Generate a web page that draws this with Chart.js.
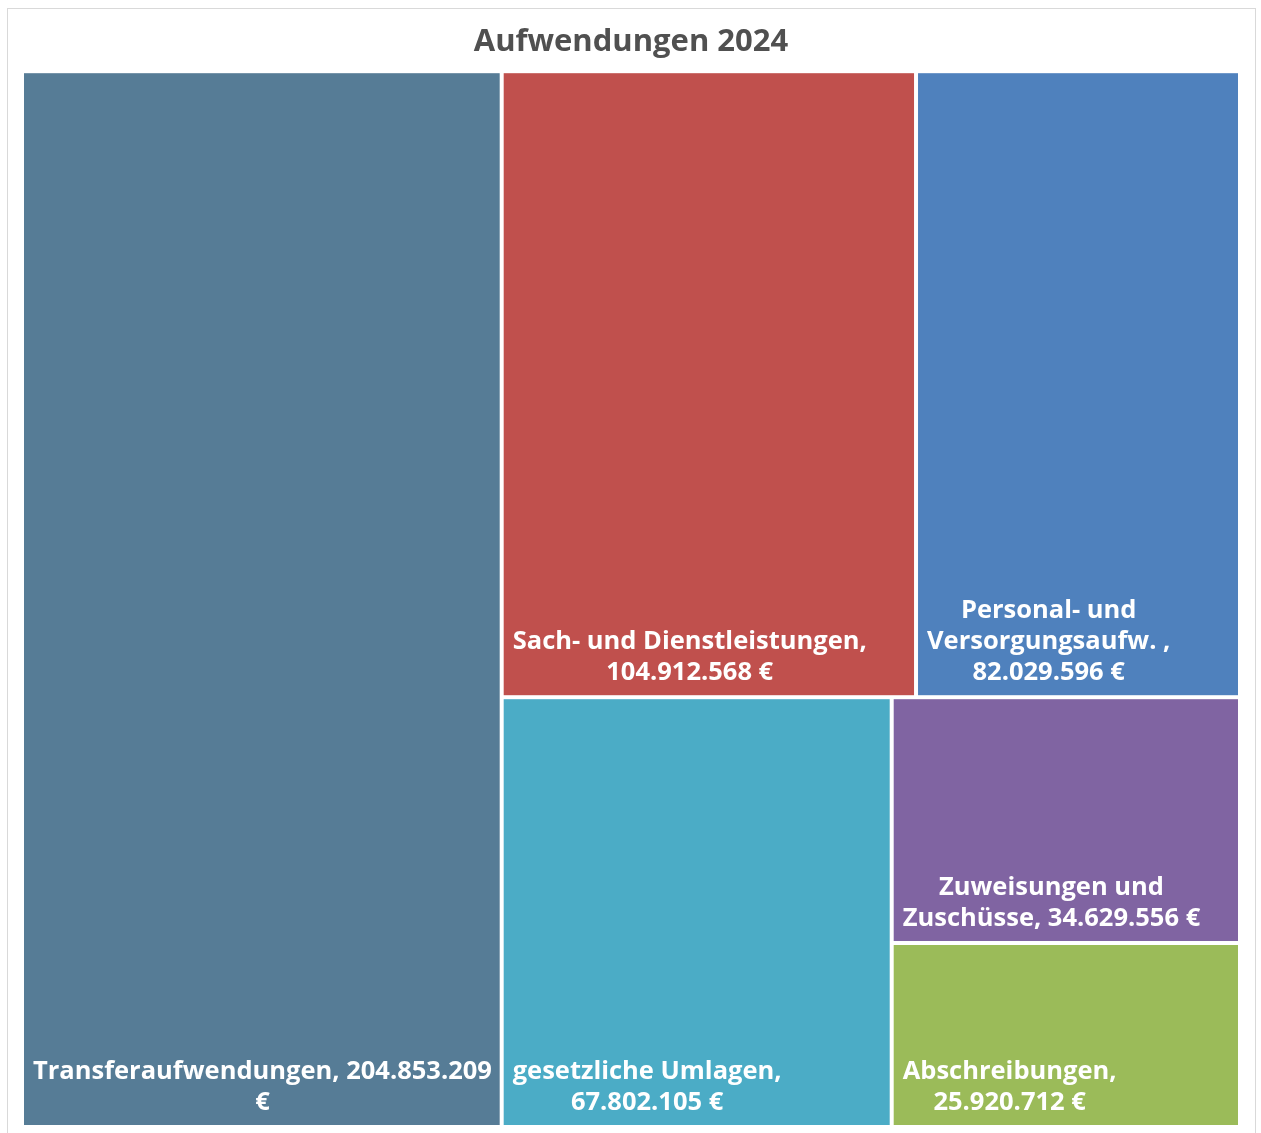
<!DOCTYPE html>
<html>
<head>
<meta charset="utf-8">
<title>Aufwendungen 2024</title>
<script src="https://cdn.jsdelivr.net/npm/chart.js@4.4.1/dist/chart.umd.min.js"></script>
<style>
  html, body { margin: 0; padding: 0; background: #fff; }
  #wrap { width: 1261px; height: 1133px; }
</style>
</head>
<body>
<div id="wrap"><canvas id="treemap"></canvas></div>
<script>
// Daten
const categories = [
  'Transferaufwendungen',
  'Sach- und Dienstleistungen',
  'Personal- und Versorgungsaufw. ',
  'gesetzliche Umlagen',
  'Zuweisungen und Zuschüsse',
  'Abschreibungen'
];
const amounts = [204853209, 104912568, 82029596, 67802105, 34629556, 25920712];
const tileColors = ['#567c96', '#c0504d', '#4f81bd', '#4bacc6', '#8064a2', '#9bbb59'];

// Gruppierung der Kacheln (wie Excel sie anordnet)
const groups = [0, [[1, 2], [3, [4, 5]]]];

function formatEuro(v) {
  return String(v).replace(/\B(?=(\d{3})+(?!\d))/g, '.') + ' €';
}

function nodeSum(node) {
  if (typeof node === 'number') return amounts[node];
  return node.reduce((s, n) => s + nodeSum(n), 0);
}

// Rechteck wird entlang der längeren Seite geteilt (Einheiten 0..1, aspect = Pixelverhältnis)
function layout(node, r, aspect, out) {
  if (typeof node === 'number') {
    out[node] = r;
    return;
  }
  const total = nodeSum(node);
  const wide = r.w * aspect >= r.h;
  let pos = 0;
  node.forEach(child => {
    const f = nodeSum(child) / total;
    if (wide) {
      layout(child, { x: r.x + pos * r.w, y: r.y, w: f * r.w, h: r.h }, aspect, out);
    } else {
      layout(child, { x: r.x, y: r.y + pos * r.h, w: r.w, h: f * r.h }, aspect, out);
    }
    pos += f;
  });
}

function wrapText(ctx, text, maxW) {
  const words = text.split(' ');
  const lines = [];
  let line = '';
  words.forEach(w => {
    const test = line ? line + ' ' + w : w;
    if (ctx.measureText(test).width > maxW && line) {
      lines.push(line);
      line = w;
    } else {
      line = test;
    }
  });
  if (line) lines.push(line);
  return lines;
}

const frameAndTiles = {
  id: 'frameAndTiles',
  beforeDraw(chart) {
    const ctx = chart.ctx;
    ctx.save();
    ctx.strokeStyle = '#d9d9d9';
    ctx.lineWidth = 1;
    ctx.strokeRect(7.5, 8.5, 1248, 1140);
    ctx.restore();
  },
  beforeDatasetsDraw(chart) {
    const ctx = chart.ctx;
    const xs = chart.scales.x;
    const ys = chart.scales.y;
    const area = chart.chartArea;
    const rects = [];
    layout(groups, { x: 0, y: 0, w: 1, h: 1 }, (area.right - area.left) / (area.bottom - area.top), rects);

    const gap = 2;
    ctx.save();
    rects.forEach((r, i) => {
      const x0 = xs.getPixelForValue(r.x) + gap;
      const x1 = xs.getPixelForValue(r.x + r.w) - gap;
      const y0 = ys.getPixelForValue(r.y) + gap;
      const y1 = ys.getPixelForValue(r.y + r.h) - gap;
      ctx.fillStyle = tileColors[i];
      ctx.fillRect(x0, y0, x1 - x0, y1 - y0);

      // Beschriftung unten links
      ctx.font = 'bold 25.5px "Open Sans", "Noto Sans", sans-serif';
      ctx.fillStyle = '#ffffff';
      ctx.textBaseline = 'middle';
      ctx.textAlign = 'left';
      const label = categories[i] + ', ' + formatEuro(amounts[i]);
      const lines = wrapText(ctx, label, (x1 - x0) - 16);
      const blockW = Math.max(...lines.map(l => ctx.measureText(l).width));
      const lh = 31;
      const left = x0 + 9;
      let cy = y1 - 22 - (lines.length - 1) * lh;
      lines.forEach(l => {
        const w = ctx.measureText(l).width;
        ctx.fillText(l, left + (blockW - w) / 2, cy);
        cy += lh;
      });
    });
    ctx.restore();
  }
};

new Chart(document.getElementById('treemap'), {
  type: 'scatter',
  data: {
    datasets: [{ data: [], pointRadius: 0 }]
  },
  options: {
    responsive: true,
    maintainAspectRatio: false,
    animation: false,
    layout: { padding: { left: 22, right: 21, top: 0, bottom: 6 } },
    scales: {
      x: { type: 'linear', min: 0, max: 1, display: false },
      y: { type: 'linear', min: 0, max: 1, reverse: true, display: false }
    },
    plugins: {
      legend: { display: false },
      tooltip: { enabled: false },
      title: {
        display: true,
        text: 'Aufwendungen 2024',
        color: '#505050',
        font: { family: '"Open Sans", "Noto Sans", sans-serif', size: 31, weight: 'bold' },
        padding: { top: 23.5, bottom: 10.5 }
      }
    }
  },
  plugins: [frameAndTiles]
});
</script>
</body>
</html>
